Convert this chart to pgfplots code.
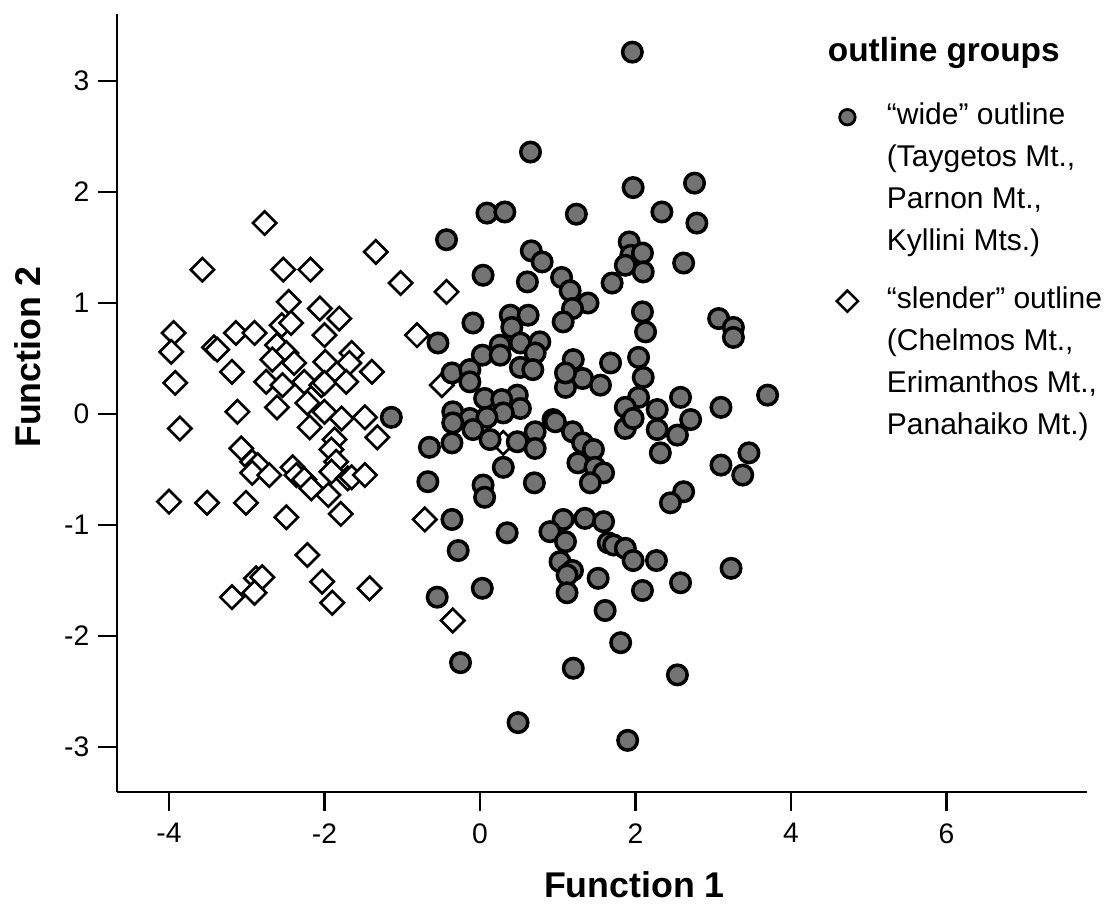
\documentclass[border=0pt]{standalone}
\usepackage{fontspec}
\setmainfont{Liberation Sans}
\usepackage{pgfplots}
\pgfplotsset{compat=1.18}
\definecolor{dotgray}{gray}{0.45}
\newcommand\lstrut{\rule[-5.3pt]{0pt}{16.8pt}}
\newcommand\tstrut{\rule[-13.7pt]{0pt}{25.2pt}}
\newcommand\gstrut{\rule[-11.7pt]{0pt}{23.2pt}}
\begin{document}
\begin{tikzpicture}
\path[use as bounding box] (-46.76pt,-44.8pt) rectangle (395.64pt,316.8pt);
\begin{axis}[
  at={(0,0)}, anchor=south west,
  scale only axis, width=388.1pt, height=311.04pt,
  xmin=-4.67, xmax=7.81, ymin=-3.405, ymax=3.6,
  axis lines=left,
  axis line style={-, line width=1pt},
  tick align=outside, major tick length=7.5pt,
  tick style={black, line width=0.9pt},
  xtick={-4,-2,0,2,4,6}, ytick={-3,-2,-1,0,1,2,3},
  /pgf/number format/assume math mode=true,
  ticklabel style={font=\fontsize{11.3}{13}\selectfont},
  xticklabel style={yshift=-1.5pt},
  xlabel={Function 1}, ylabel={Function 2},
  label style={font=\bfseries\fontsize{14.3}{17}\selectfont},
  xlabel style={at={(axis description cs:0.5334,-0.1196)}, anchor=center},
  ylabel style={at={(axis description cs:-0.0921,0.5588)}, anchor=center},
  clip=false,
  legend cell align=left,
  legend style={at={(axis description cs:0.7305,0.9758)}, anchor=north west,
    draw=none, fill=none, inner sep=0pt, outer sep=0pt,
    column sep=7.1pt, row sep=0pt,
    nodes={inner sep=0pt, text depth=},
    font=\fontsize{12}{14.4}\selectfont},
]
% slender outline
\addplot[only marks, mark=square*, mark size=3.3pt,
  mark options={rotate=45, draw=black, fill=white, line width=1.05pt}, forget plot] table {
x y
-2.77 1.72
-3.57 1.30
-2.53 1.30
-2.18 1.30
-1.34 1.46
-1.02 1.18
-2.46 1.01
-2.06 0.95
-1.81 0.86
-2.55 0.80
-2.43 0.82
-2.00 0.71
-3.94 0.73
-3.97 0.56
-3.42 0.60
-3.38 0.58
-3.14 0.73
-2.90 0.73
-2.61 0.62
-2.49 0.55
-2.67 0.49
-2.39 0.46
-1.99 0.47
-1.65 0.55
-1.68 0.46
-1.39 0.38
-3.92 0.28
-3.19 0.38
-2.75 0.29
-2.54 0.26
-2.26 0.29
-2.04 0.26
-2.00 0.28
-1.72 0.29
-3.12 0.02
-2.61 0.06
-2.22 0.10
-2.00 0.02
-1.78 -0.04
-1.48 -0.03
-3.86 -0.13
-2.19 -0.12
-1.32 -0.21
-3.07 -0.31
-2.93 -0.43
-2.86 -0.46
-2.93 -0.53
-2.71 -0.55
-2.41 -0.48
-2.36 -0.55
-2.26 -0.59
-2.17 -0.67
-1.87 -0.23
-1.91 -0.32
-1.85 -0.43
-1.91 -0.52
-1.70 -0.58
-1.65 -0.57
-1.48 -0.55
-1.95 -0.73
-4.00 -0.79
-3.51 -0.80
-3.01 -0.80
-2.49 -0.93
-1.79 -0.90
-2.22 -1.27
-2.88 -1.48
-2.80 -1.47
-3.19 -1.65
-2.90 -1.61
-2.03 -1.51
-1.90 -1.70
-1.42 -1.57
-0.43 1.10
-0.81 0.71
-0.49 0.26
-0.71 -0.95
-0.35 -1.86
0.30 -0.26
};
% wide outline
\addplot[only marks, mark=*, mark size=3.9pt,
  mark options={draw=black, fill=dotgray, line width=1.4pt}, forget plot] table {
x y
1.96 3.26
0.65 2.36
1.97 2.04
2.76 2.08
2.34 1.82
0.09 1.81
0.32 1.82
1.24 1.80
2.79 1.72
-0.43 1.57
0.66 1.47
0.80 1.37
0.61 1.19
1.05 1.23
1.16 1.11
1.39 1.00
1.19 0.95
1.07 0.83
1.70 1.18
0.04 1.25
1.92 1.55
1.94 1.43
2.09 1.45
1.87 1.34
2.10 1.28
2.62 1.36
2.09 0.92
2.13 0.74
3.07 0.86
3.26 0.78
3.26 0.69
-0.54 0.64
-0.09 0.82
0.39 0.89
0.62 0.89
0.41 0.78
0.26 0.62
0.52 0.64
0.77 0.65
0.03 0.53
0.26 0.53
0.71 0.55
0.52 0.42
0.68 0.40
-0.36 0.37
-0.13 0.40
-0.13 0.29
0.06 0.14
0.48 0.17
0.28 0.13
0.52 0.05
0.30 0.01
-0.35 0.02
-0.13 -0.04
0.09 -0.03
-0.35 -0.08
-0.09 -0.14
-0.65 -0.30
-0.36 -0.26
0.13 -0.23
0.48 -0.25
0.71 -0.16
0.71 -0.31
0.30 -0.48
0.94 -0.05
-1.14 -0.03
1.20 0.49
1.32 0.32
1.10 0.24
1.10 0.37
1.68 0.46
1.55 0.26
2.04 0.51
2.10 0.33
2.04 0.15
1.87 0.06
1.87 -0.13
1.97 -0.04
2.28 0.04
2.28 -0.14
2.32 -0.35
2.58 0.15
2.71 -0.05
2.54 -0.19
3.10 0.06
3.70 0.17
0.97 -0.07
1.19 -0.16
1.32 -0.26
1.46 -0.32
1.26 -0.44
1.48 -0.48
1.59 -0.53
1.42 -0.62
0.70 -0.62
-0.67 -0.61
0.04 -0.64
0.06 -0.75
3.10 -0.46
3.46 -0.35
3.38 -0.55
2.62 -0.70
2.45 -0.80
-0.36 -0.95
0.35 -1.07
-0.28 -1.23
1.07 -0.95
1.35 -0.94
1.59 -0.97
0.90 -1.06
1.10 -1.15
1.03 -1.33
1.19 -1.41
1.12 -1.45
1.12 -1.61
1.65 -1.16
1.72 -1.18
1.87 -1.21
1.97 -1.32
2.27 -1.32
3.23 -1.39
1.52 -1.48
2.09 -1.59
2.58 -1.52
1.61 -1.77
1.81 -2.06
2.54 -2.35
1.90 -2.94
-0.55 -1.65
0.03 -1.57
-0.25 -2.24
1.20 -2.29
0.49 -2.78
};
% legend
\addlegendimage{empty legend}
\addlegendentry{\hspace*{-23.6pt}\bfseries\fontsize{13.35}{16}\selectfont outline groups\tstrut}
\addlegendimage{only marks, mark=*, mark size=3.1pt,
  mark options={draw=black, fill=dotgray, line width=1.1pt},
  legend image code/.code={\path (0pt,0pt) (17pt,0pt);
    \draw plot coordinates {(8.5pt,0pt)};}}
\addlegendentry{``wide'' outline\lstrut}
\addlegendimage{empty legend}
\addlegendentry{(Taygetos Mt.,\lstrut}
\addlegendimage{empty legend}
\addlegendentry{Parnon Mt.,\lstrut}
\addlegendimage{empty legend}
\addlegendentry{Kyllini Mts.)\gstrut}
\addlegendimage{only marks, mark=square*, mark size=3.0pt,
  mark options={rotate=45, draw=black, fill=white, line width=1pt},
  legend image code/.code={\path (0pt,0pt) (17pt,0pt);
    \draw plot coordinates {(8.5pt,0pt)};}}
\addlegendentry{``slender'' outline\lstrut}
\addlegendimage{empty legend}
\addlegendentry{(Chelmos Mt.,\lstrut}
\addlegendimage{empty legend}
\addlegendentry{Erimanthos Mt.,\lstrut}
\addlegendimage{empty legend}
\addlegendentry{Panahaiko Mt.)\lstrut}
\end{axis}
\end{tikzpicture}
\end{document}
